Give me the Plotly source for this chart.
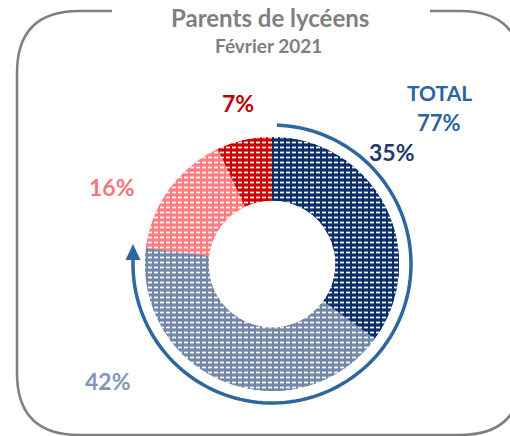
import numpy as np
import plotly.graph_objects as go

# Data
categories = ["Tout à fait", "Plutôt", "Plutôt pas", "Pas du tout"]
values = [35, 42, 16, 7]
slice_colors = ["#0B2F6B", "#7387A8", "#FF7C80", "#D00000"]
label_colors = ["#1F3A6E", "#7F97B8", "#F4777C", "#C00000"]
title_text = "Parents de lycéens"
subtitle_text = "Février 2021"
total_label = "TOTAL"
total_value = 77

W, H = 510, 436
cx, cy, R = 272, 264, 127


def px(x):
    return x / W


def py(y):
    return 1 - y / H


fig = go.Figure()

dom = dict(x=[px(cx - R), px(cx + R)], y=[py(cy + R), py(cy - R)])
common = dict(labels=categories, values=values, sort=False, direction="clockwise",
              rotation=0, hole=0.5, textinfo="none", showlegend=False, domain=dom)
fig.add_trace(go.Pie(**common, hoverinfo="label+percent",
                     marker=dict(colors=slice_colors, line=dict(width=0))))
# white horizontal stripes
fig.add_trace(go.Pie(**common, hoverinfo="skip",
                     marker=dict(colors=slice_colors, line=dict(width=0),
                                 pattern=dict(shape="-", fgcolor="white", bgcolor=slice_colors,
                                              size=5, solidity=0.35, fillmode="replace"))))
# break stripes into dashes
fig.add_trace(go.Pie(**common, hoverinfo="skip",
                     marker=dict(colors=slice_colors, line=dict(width=0),
                                 pattern=dict(shape="|", fgcolor=slice_colors,
                                              bgcolor="rgba(0,0,0,0)",
                                              size=6, solidity=0.34, fillmode="replace"))))

# arc arrow (paper coords)
Ra = 139
th = np.linspace(np.deg2rad(88), np.deg2rad(88 - 274), 120)
pts = [(px(cx + Ra * np.cos(t)), py(cy - Ra * np.sin(t))) for t in th]
arc_path = "M " + " L ".join(f"{a:.5f} {b:.5f}" for a, b in pts)
fig.add_shape(type="path", xref="paper", yref="paper", path=arc_path,
              line=dict(color="#2E67A0", width=3.5))
head = [(133, 244), (125.5, 260), (140.5, 260)]
head_path = "M " + " L ".join(f"{px(a):.5f} {py(b):.5f}" for a, b in head) + " Z"
fig.add_shape(type="path", xref="paper", yref="paper", path=head_path,
              fillcolor="#2E67A0", line=dict(width=0))

# frame
r = 62
fpts = [("M", 112, 11), ("L", 17 + r, 11), ("Q", 17, 11, 17, 11 + r), ("L", 17, 435 - r),
        ("Q", 17, 435, 17 + r, 435), ("L", 522 - r, 435), ("Q", 522, 435, 522, 435 - r),
        ("L", 522, 11 + r), ("Q", 522, 11, 522 - r, 11), ("L", 430, 11)]
segs = []
for p in fpts:
    cmd = p[0]
    coords = p[1:]
    s = cmd
    for i in range(0, len(coords), 2):
        s += f" {px(coords[i]):.5f} {py(coords[i + 1]):.5f}"
    segs.append(s)
fig.add_shape(type="path", xref="paper", yref="paper", path=" ".join(segs),
              line=dict(color="#808080", width=2.5))

font = "Lato"
ann = []
ann.append(dict(x=270, y=18, text=f"<b>{title_text}</b>", font=dict(size=24, color="#7F7F7F", family=font)))
ann.append(dict(x=268, y=45, text=f"<b>{subtitle_text}</b>", font=dict(size=19, color="#7F7F7F", family=font)))
ann.append(dict(x=439, y=92, text=f"<b>{total_label}</b>", font=dict(size=21, color="#2E64A0", family=font)))
ann.append(dict(x=439, y=123, text=f"<b>{total_value}%</b>", font=dict(size=22, color="#2E64A0", family=font)))
label_pos = [(392, 152), (108, 381), (112, 187), (238, 103)]
for (lx, ly), v, c in zip(label_pos, values, label_colors):
    ann.append(dict(x=lx, y=ly, text=f"<b>{v}%</b>", font=dict(size=23, color=c, family=font)))
for a in ann:
    a.update(x=px(a["x"]), y=py(a["y"]), xref="paper", yref="paper",
             showarrow=False, xanchor="center", yanchor="middle")

fig.update_layout(
    width=W, height=H, margin=dict(l=0, r=0, t=0, b=0),
    paper_bgcolor="white",
    annotations=ann,
)

fig.write_html("out.html", config={"displayModeBar": False},
               post_script="document.body.style.margin='0';")
